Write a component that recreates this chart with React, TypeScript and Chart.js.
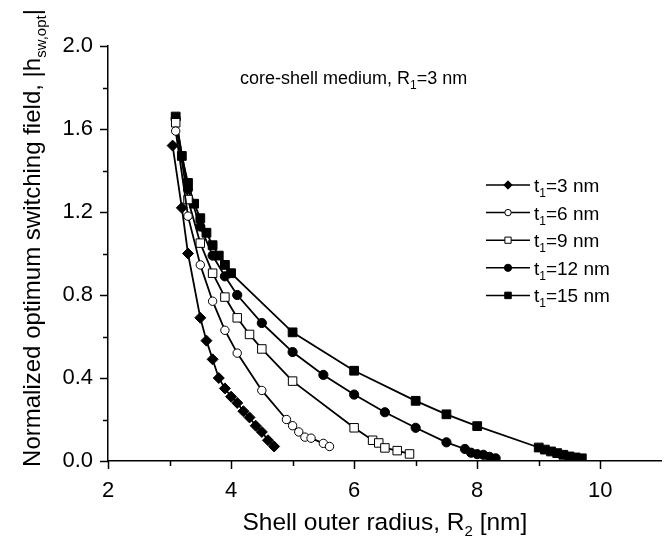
import React, { useEffect, useRef } from 'react';
import { Chart, registerables } from 'chart.js';

Chart.register(...registerables);

const FONT = "'Liberation Sans', Arial, Helvetica, sans-serif";

// t1 values for the legend
const thicknessLabels = ['3', '6', '9', '12', '15'];

// Shell outer radius R2 [nm] and normalized optimum switching field per series
const r2_t3 = [3.05, 3.2, 3.3, 3.5, 3.6, 3.7, 3.8, 3.9, 4.0, 4.1, 4.2, 4.3, 4.4, 4.5, 4.6, 4.7];
const h_t3 = [1.52, 1.22, 1.0, 0.69, 0.58, 0.49, 0.40, 0.35, 0.31, 0.28, 0.24, 0.21, 0.17, 0.14, 0.10, 0.07];

const r2_t6 = [3.1, 3.3, 3.5, 3.7, 3.9, 4.1, 4.5, 4.9, 5.0, 5.1, 5.2, 5.3, 5.5, 5.6];
const h_t6 = [1.59, 1.18, 0.945, 0.77, 0.63, 0.52, 0.34, 0.20, 0.17, 0.14, 0.115, 0.11, 0.085, 0.07];

const r2_t9 = [3.1, 3.3, 3.5, 3.7, 3.9, 4.1, 4.3, 4.5, 5.0, 6.0, 6.3, 6.4, 6.5, 6.7, 6.9];
const h_t9 = [1.63, 1.26, 1.05, 0.905, 0.79, 0.69, 0.61, 0.54, 0.385, 0.16, 0.10, 0.087, 0.063, 0.05, 0.034];

const r2_t12 = [3.1, 3.3, 3.5, 3.7, 3.9, 4.1, 4.5, 5.0, 5.5, 6.0, 6.5, 7.0, 7.5, 7.8, 7.9, 8.0, 8.1, 8.2, 8.3];
const h_t12 = [1.65, 1.31, 1.13, 0.99, 0.89, 0.80, 0.665, 0.525, 0.415, 0.32, 0.235, 0.16, 0.09, 0.058, 0.04, 0.033, 0.03, 0.02, 0.013];

const r2_t15 = [3.1, 3.2, 3.3, 3.4, 3.5, 3.6, 3.7, 3.8, 3.9, 4.0, 5.0, 6.0, 7.0, 7.5, 8.0, 9.0, 9.1, 9.2, 9.3, 9.4, 9.5, 9.6, 9.7];
const h_t15 = [1.66, 1.47, 1.34, 1.24, 1.17, 1.10, 1.04, 0.99, 0.945, 0.905, 0.62, 0.435, 0.29, 0.225, 0.168, 0.065, 0.055, 0.046, 0.038, 0.03, 0.022, 0.017, 0.013];

const seriesX = [r2_t3, r2_t6, r2_t9, r2_t12, r2_t15];
const seriesY = [h_t3, h_t6, h_t9, h_t12, h_t15];

const pointStyles = ['rectRot', 'circle', 'rect', 'circle', 'rect'];
const filled = [true, false, false, true, true];
const radii = [5.5, 4.2, 6.0, 4.6, 6.2];
const legendRadii = [4.2, 3.2, 4.4, 3.6, 4.6];

type Part = { t: string; sub?: boolean };

function richWidth(ctx: CanvasRenderingContext2D, parts: Part[], size: number, subSize: number) {
  let w = 0;
  for (const p of parts) {
    ctx.font = `${p.sub ? subSize : size}px ${FONT}`;
    w += ctx.measureText(p.t).width;
  }
  return w;
}

function drawRich(
  ctx: CanvasRenderingContext2D,
  parts: Part[],
  x: number,
  y: number,
  size: number,
  subSize: number,
  subDy: number
) {
  let cx = x;
  for (const p of parts) {
    ctx.font = `${p.sub ? subSize : size}px ${FONT}`;
    ctx.fillText(p.t, cx, p.sub ? y + subDy : y);
    cx += ctx.measureText(p.t).width;
  }
}

function drawMarker(ctx: CanvasRenderingContext2D, style: string, x: number, y: number, r: number, fill: boolean) {
  ctx.beginPath();
  if (style === 'circle') {
    ctx.arc(x, y, r, 0, Math.PI * 2);
  } else if (style === 'rect') {
    const s = (r * Math.SQRT2) / 2;
    ctx.rect(x - s, y - s, s * 2, s * 2);
  } else {
    ctx.moveTo(x, y - r);
    ctx.lineTo(x + r, y);
    ctx.lineTo(x, y + r);
    ctx.lineTo(x - r, y);
    ctx.closePath();
  }
  ctx.fillStyle = fill ? '#000' : '#fff';
  ctx.fill();
  ctx.lineWidth = 1;
  ctx.strokeStyle = '#000';
  ctx.stroke();
}

const overlayPlugin = {
  id: 'overlay',
  afterDraw(chart: any) {
    const ctx: CanvasRenderingContext2D = chart.ctx;
    const xs = chart.scales.x;
    const ys = chart.scales.y;
    ctx.save();
    ctx.strokeStyle = '#000';
    ctx.lineWidth = 1.5;
    // tick marks (major longer, minor shorter, pointing outward)
    for (const t of xs.ticks) {
      if (t.value > 10.001) continue;
      const major = Math.abs(t.value % 2) < 1e-6;
      const px = Math.round(xs.getPixelForValue(t.value)) + 0.5;
      ctx.beginPath();
      ctx.moveTo(px, xs.top);
      ctx.lineTo(px, xs.top + (major ? 8 : 5));
      ctx.stroke();
    }
    for (const t of ys.ticks) {
      const v = t.value;
      const major = Math.abs(Math.round(v / 0.4) * 0.4 - v) < 1e-6;
      const py = Math.round(ys.getPixelForValue(v)) + 0.5;
      ctx.beginPath();
      ctx.moveTo(ys.right, py);
      ctx.lineTo(ys.right - (major ? 8 : 5), py);
      ctx.stroke();
    }

    ctx.fillStyle = '#000';
    ctx.textBaseline = 'alphabetic';
    ctx.textAlign = 'left';

    // x title
    const xParts: Part[] = [{ t: 'Shell outer radius, R' }, { t: '2', sub: true }, { t: ' [nm]' }];
    const xw = richWidth(ctx, xParts, 24.5, 15);
    const xc = (chart.chartArea.left + chart.chartArea.right) / 2;
    drawRich(ctx, xParts, xc - xw / 2, 530, 24.5, 15, 6);

    // y title
    const yParts: Part[] = [
      { t: 'Normalized optimum switching field, |h' },
      { t: 'sw,opt', sub: true },
      { t: '|' },
    ];
    const yw = richWidth(ctx, yParts, 24, 15);
    ctx.save();
    ctx.translate(40, 238);
    ctx.rotate(-Math.PI / 2);
    drawRich(ctx, yParts, -yw / 2, 0, 24, 15, 6);
    ctx.restore();

    // annotation
    const aParts: Part[] = [{ t: 'core-shell medium, R' }, { t: '1', sub: true }, { t: '=3 nm' }];
    drawRich(ctx, aParts, 240, 84, 18, 12, 5);

    // legend
    for (let i = 0; i < thicknessLabels.length; i++) {
      const ly = 185 + i * 27.6;
      ctx.strokeStyle = '#000';
      ctx.lineWidth = 1.5;
      ctx.beginPath();
      ctx.moveTo(486, ly);
      ctx.lineTo(530, ly);
      ctx.stroke();
      drawMarker(ctx, pointStyles[i], 508, ly, legendRadii[i], filled[i]);
      ctx.fillStyle = '#000';
      const parts: Part[] = [{ t: 't' }, { t: '1', sub: true }, { t: '=' + thicknessLabels[i] + ' nm' }];
      drawRich(ctx, parts, 534, ly + 7, 19, 12, 5);
    }
    ctx.restore();
  },
};

// Chart.js keeps a 5px right margin on the x scale; the canvas is 5px wider than
// the visible frame so the plot area ends at the window's right edge.
const CANVAS_W = 669;
const CANVAS_H = 541;

export default function App() {
  const ref = useRef<HTMLCanvasElement | null>(null);

  useEffect(() => {
    if (!ref.current) return;
    const datasets = seriesX.map((xsArr, i) => ({
      label: 't1=' + thicknessLabels[i] + ' nm',
      data: xsArr.map((x, j) => ({ x, y: seriesY[i][j] })),
      showLine: true,
      borderColor: '#000',
      borderWidth: 1.8,
      pointStyle: pointStyles[i] as any,
      pointRadius: radii[i],
      pointHoverRadius: radii[i],
      pointBackgroundColor: filled[i] ? '#000' : '#fff',
      pointBorderColor: '#000',
      pointBorderWidth: 1,
      tension: 0,
    }));

    const chart = new Chart(ref.current, {
      type: 'scatter',
      data: { datasets },
      options: {
        responsive: false,
        animation: false,
        events: [],
        layout: { padding: { top: 46, left: 0, right: 0, bottom: 0 } },
        plugins: {
          legend: { display: false },
          tooltip: { enabled: false },
          title: { display: false },
        },
        scales: {
          x: {
            type: 'linear',
            min: 2,
            max: 11,
            ticks: {
              stepSize: 1,
              autoSkip: false,
              maxRotation: 0,
              padding: 0,
              color: '#000',
              font: { family: FONT, size: 22 },
              callback: (v: any) => (Math.abs(v % 2) < 1e-6 && v <= 10 ? String(v) : ''),
            },
            grid: { display: false, drawTicks: true, tickLength: 17 },
            border: { display: true, color: '#000', width: 1.5 },
            afterFit: (s: any) => {
              s.height = 80;
              s.paddingRight = 0;
              s.paddingLeft = 0;
            },
          },
          y: {
            type: 'linear',
            min: 0,
            max: 2,
            ticks: {
              stepSize: 0.2,
              autoSkip: false,
              padding: 15,
              color: '#000',
              font: { family: FONT, size: 22 },
              callback: (v: any) =>
                Math.abs(Math.round(v / 0.4) * 0.4 - v) < 1e-6 ? Number(v).toFixed(1) : '',
            },
            grid: { display: false, drawTicks: false },
            border: { display: true, color: '#000', width: 1.5 },
            afterFit: (s: any) => {
              s.width = 108;
            },
          },
        },
      },
      plugins: [overlayPlugin],
    });
    return () => chart.destroy();
  }, []);

  return (
    <div
      style={{
        position: 'fixed',
        left: 0,
        top: 0,
        width: 664,
        height: 541,
        overflow: 'hidden',
        background: '#fff',
      }}
    >
      <canvas
        ref={ref}
        width={CANVAS_W}
        height={CANVAS_H}
        style={{ width: CANVAS_W, height: CANVAS_H, display: 'block' }}
      />
    </div>
  );
}
